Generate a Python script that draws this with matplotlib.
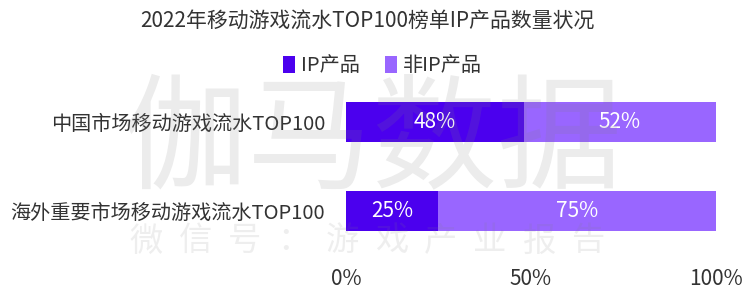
import numpy as np
import matplotlib
matplotlib.use("Agg")
import matplotlib.pyplot as plt

plt.rcParams['font.family'] = ['Noto Sans CJK SC', 'DejaVu Sans']

title = "2022年移动游戏流水TOP100榜单IP产品数量状况"
categories = ["中国市场移动游戏流水TOP100", "海外重要市场移动游戏流水TOP100"]
ip_share = [48, 25]
non_ip_share = [52, 75]
series_names = ["IP产品", "非IP产品"]
xticks = [0, 50, 100]
xtick_labels = ["0%", "50%", "100%"]
watermark = "伽马数据"
watermark_sub = "微信号：游戏产业报告"

dark = "#4B00EE"
light = "#9966FF"
text_col = "#333333"

fig = plt.figure(figsize=(7.5, 2.92), dpi=100)
ax = fig.add_axes([0.4613, 0.125, 0.4934, 0.61])

y = np.arange(len(categories))
b1 = ax.barh(y, ip_share, height=0.45, color=dark, label=series_names[0])
b2 = ax.barh(y, non_ip_share, left=ip_share, height=0.45, color=light, label=series_names[1])

for bars, vals, lefts in [(b1, ip_share, [0, 0]), (b2, non_ip_share, ip_share)]:
    for bar, v, l in zip(bars, vals, lefts):
        ax.text(l + v / 2, bar.get_y() + bar.get_height() / 2, f"{v}%",
                ha='center', va='center', color='white', fontsize=15)

ax.set_xlim(0, 100)
ax.set_ylim(1.5, -0.5)
ax.set_yticks(y)
ax.set_yticklabels(categories, fontsize=14.5, color=text_col)
ax.set_xticks(xticks)
ax.set_xticklabels(xtick_labels, fontsize=15, color=text_col)
ax.tick_params(axis='y', length=0, pad=15)
ax.tick_params(axis='x', length=0, pad=9)
for s in ax.spines.values():
    s.set_visible(False)

fig.text(0.49, 0.925, title, ha='center', va='center', fontsize=15, color=text_col)
fig.legend(handles=[b1, b2], loc='center', bbox_to_anchor=(0.51, 0.775), ncol=2,
           frameon=False, fontsize=14.5, handlelength=0.6, handleheight=0.9,
           handletextpad=0.3, columnspacing=1.2, labelcolor=text_col)

# watermark
fig.text(0.496, 0.51, watermark, ha='center', va='center', fontsize=90,
         color='gray', alpha=0.15, zorder=10)
for i, ch in enumerate(watermark_sub):
    fig.text(0.195 + i * 0.0655, 0.175, ch, ha='center', va='center',
             fontsize=24, color='gray', alpha=0.13, zorder=10)

fig.savefig("out.png", dpi=100)
